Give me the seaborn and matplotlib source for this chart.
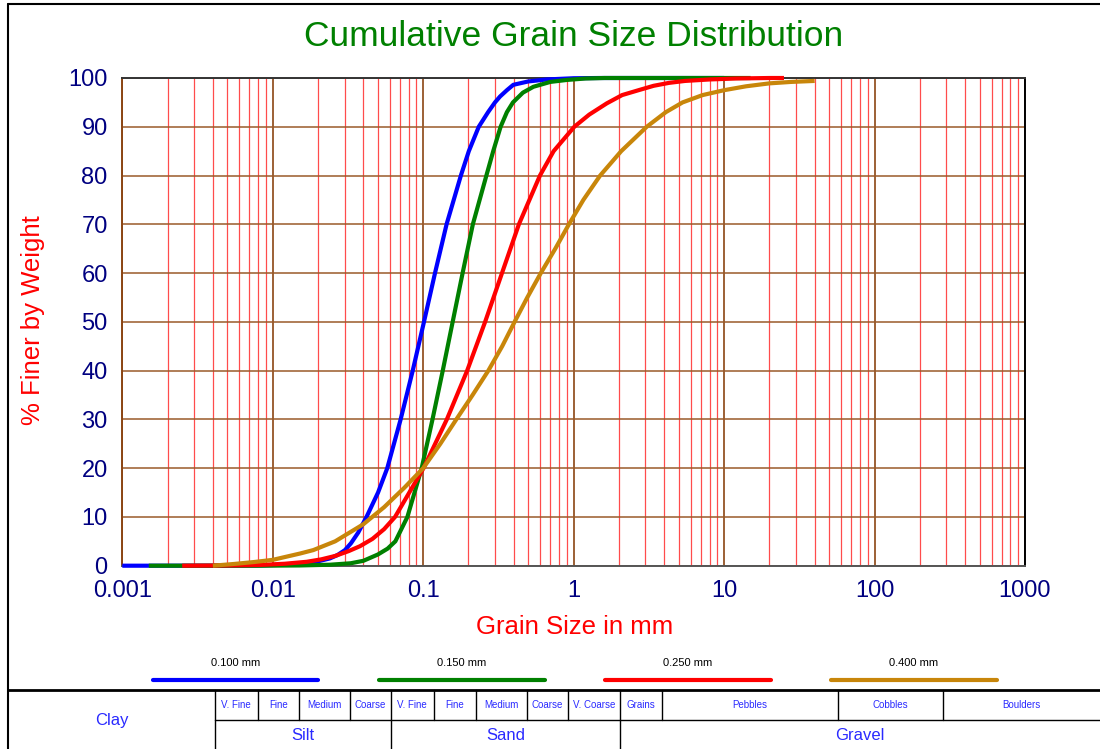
import numpy as np
import pandas as pd
import matplotlib
matplotlib.use("Agg")
import matplotlib.pyplot as plt
import seaborn as sns
from matplotlib.lines import Line2D
from matplotlib.ticker import FixedLocator, FixedFormatter, MultipleLocator, NullFormatter, LogLocator

# ---------------- data ----------------
series_names = ["0.100 mm", "0.150 mm", "0.250 mm", "0.400 mm"]
series_colors = ["#0000ff", "#008000", "#ff0000", "#c8860a"]

blue_d = [0.001, 0.004, 0.008, 0.012, 0.0169, 0.02, 0.024, 0.027, 0.0302, 0.0331, 0.037, 0.042,
          0.0501, 0.0577, 0.0708, 0.0852, 0.1012, 0.1198, 0.143, 0.178, 0.201, 0.234, 0.27,
          0.30, 0.324, 0.36, 0.397, 0.5, 0.662, 1.0, 1.5, 10.0]
blue_p = [0, 0, 0.05, 0.2, 0.5, 0.9, 1.5, 2.2, 3.2, 4.6, 6.8, 10,
          15, 20, 30, 40, 50, 60, 70, 80, 85, 90, 93,
          95, 96.2, 97.5, 98.6, 99.3, 99.7, 99.95, 100, 100]

green_d = [0.0015, 0.008, 0.015, 0.024, 0.033, 0.04, 0.05, 0.058, 0.0653, 0.0785, 0.0977,
           0.1153, 0.1349, 0.157, 0.1828, 0.2138, 0.263, 0.292, 0.327, 0.36, 0.395, 0.46,
           0.54, 0.7, 0.9, 1.2, 1.6, 15.0]
green_p = [0, 0, 0.05, 0.2, 0.5, 1.0, 2.3, 3.5, 5, 10, 20,
           30, 40, 50, 60, 70, 80, 85, 90, 93, 95, 97,
           98.2, 99.2, 99.6, 99.9, 100, 100]

red_d = [0.0025, 0.005, 0.0082, 0.012, 0.0168, 0.021, 0.026, 0.032, 0.038, 0.046, 0.055, 0.065,
         0.1005, 0.1436, 0.196, 0.258, 0.334, 0.4325, 0.597, 0.736, 1.01, 1.27, 1.66, 2.1, 2.7,
         3.4, 4.3, 5.5, 8.0, 12.0, 20.0, 25.0]
red_p = [0, 0.05, 0.15, 0.4, 0.8, 1.3, 2, 3, 4, 5.5, 7.5, 10,
         20, 30, 40, 50, 60, 70, 80, 85, 90, 92.5, 94.8, 96.5, 97.5,
         98.4, 99, 99.4, 99.7, 99.9, 100, 100]

gold_d = [0.004, 0.0055, 0.0075, 0.01, 0.0152, 0.0186, 0.026, 0.04, 0.055, 0.075, 0.1, 0.13,
          0.166, 0.213, 0.271, 0.335, 0.405, 0.492, 0.605, 0.755, 0.93, 1.16, 1.5, 2.07, 3.06,
          4.1, 5.3, 7.2, 10.0, 14.0, 20.0, 28.0, 40.0]
gold_p = [0, 0.35, 0.75, 1.2, 2.5, 3.2, 5, 8.5, 12, 16, 20, 25,
          30, 35, 40, 45, 50, 55, 60, 65, 70, 75, 80, 85, 90,
          93, 95, 96.5, 97.5, 98.3, 98.9, 99.2, 99.4]

x_ticks = [0.001, 0.01, 0.1, 1, 10, 100, 1000]
x_tick_labels = ["0.001", "0.01", "0.1", "1", "10", "100", "1000"]
y_ticks = [0, 10, 20, 30, 40, 50, 60, 70, 80, 90, 100]
y_tick_labels = [str(v) for v in y_ticks]

title_text = "Cumulative Grain Size Distribution"
x_label_text = "Grain Size in mm"
y_label_text = "% Finer by Weight"

row1_labels = ["V. Fine", "Fine", "Medium", "Coarse", "V. Fine", "Fine", "Medium", "Coarse",
               "V. Coarse", "Grains", "Pebbles", "Cobbles", "Boulders"]
row2_labels = ["Silt", "Sand", "Gravel"]
clay_label = "Clay"

# ---------------- layout (pixels of a 1100x749 canvas) ----------------
W_PX, H_PX = 1100, 749
def fx(px):
    return px / W_PX
def fy(py):
    return 1 - py / H_PX

row1_edges = [215, 257.5, 299, 350, 391, 433.5, 475.5, 527, 568, 620, 661.5, 838, 943, 1100]
row2_edges = [215, 391, 620, 1100]
legend_spans = [(153, 318), (379, 545), (605, 771), (831, 997)]

sns.set_style("white")
plt.rcParams["font.family"] = ["Liberation Sans", "DejaVu Sans"]

fig = plt.figure(figsize=(11, 7.49), dpi=100)
ax = fig.add_axes([fx(122.3), fy(565.7), fx(1025) - fx(122.3), fy(78) - fy(565.7)])
ax.set_xscale("log")

frames = []
for name, d, p in zip(series_names, [blue_d, green_d, red_d, gold_d], [blue_p, green_p, red_p, gold_p]):
    frames.append(pd.DataFrame({"size": d, "pct": p, "series": name}))
df = pd.concat(frames, ignore_index=True)

sns.lineplot(data=df, x="size", y="pct", hue="series", hue_order=series_names,
             palette=series_colors, estimator=None, legend=False, ax=ax,
             lw=3, clip_on=False, zorder=5, solid_joinstyle="round", solid_capstyle="butt")

ax.set_xlim(0.001, 1000)
ax.set_ylim(0, 100)
ax.set_xlabel("")
ax.set_ylabel("")

ax.xaxis.set_major_locator(FixedLocator(x_ticks))
ax.xaxis.set_major_formatter(FixedFormatter(x_tick_labels))
ax.xaxis.set_minor_locator(LogLocator(base=10, subs=np.arange(2, 10)))
ax.xaxis.set_minor_formatter(NullFormatter())
ax.yaxis.set_major_locator(FixedLocator(y_ticks))
ax.yaxis.set_major_formatter(FixedFormatter(y_tick_labels))
ax.yaxis.set_minor_locator(MultipleLocator(5))

brown = "#8b4513"
ax.grid(which="minor", axis="x", color="#ff0000", lw=0.9, alpha=0.7, zorder=1)
ax.grid(which="major", axis="x", color=brown, lw=1.2, zorder=2)
ax.grid(which="major", axis="y", color="#9a5a2a", lw=1.1, zorder=2)
ax.set_axisbelow(True)

ax.tick_params(axis="both", which="major", direction="out", length=5.5, width=1.2,
               color=brown, labelcolor="#000080", labelsize=17, pad=5)
ax.tick_params(axis="x", which="minor", length=0)
ax.tick_params(axis="y", which="minor", direction="out", length=3, width=1, color="#ff0000")

for side, col in [("left", brown), ("bottom", "#555555"), ("top", "#333333"), ("right", "#000000")]:
    ax.spines[side].set_visible(True)
    ax.spines[side].set_color(col)
    ax.spines[side].set_linewidth(1.4)

# titles
fig.text(fx(574), fy(36), title_text, color="#008000", fontsize=25.5, ha="center", va="center")
fig.text(fx(574.5), fy(627), x_label_text, color="#ff0000", fontsize=18.5, ha="center", va="center")
fig.text(fx(33), fy(320), y_label_text, color="#ff0000", fontsize=18.5, ha="center", va="center",
         rotation=90)

# legend
for name, col, (x0, x1) in zip(series_names, series_colors, legend_spans):
    fig.add_artist(Line2D([fx(x0), fx(x1)], [fy(680), fy(680)], transform=fig.transFigure,
                          color=col, lw=3))
    fig.text(fx((x0 + x1) / 2), fy(663), name, fontsize=8, ha="center", va="center", color="black")

# outer frame and classification table
def hline(y, x0, x1, lw=1.0):
    fig.add_artist(Line2D([fx(x0), fx(x1)], [fy(y), fy(y)], transform=fig.transFigure,
                          color="black", lw=lw))
def vline(x, y0, y1, lw=1.0):
    fig.add_artist(Line2D([fx(x), fx(x)], [fy(y0), fy(y1)], transform=fig.transFigure,
                          color="black", lw=lw))

hline(4, 8, 1100, lw=1.5)
vline(8, 4, 749, lw=1.5)
hline(690, 8, 1100, lw=2.0)
hline(720, 215, 1100, lw=1.0)
for x in row1_edges[:-1]:
    vline(x, 690, 720, lw=1.0)
for x in row2_edges[:-1]:
    vline(x, 720, 749, lw=1.0)

tcol = "#2a2aff"
for i, lab in enumerate(row1_labels):
    xc = (row1_edges[i] + row1_edges[i + 1]) / 2
    fig.text(fx(xc), fy(705), lab, fontsize=7, ha="center", va="center", color=tcol)
for i, lab in enumerate(row2_labels):
    xc = (row2_edges[i] + row2_edges[i + 1]) / 2
    fig.text(fx(xc), fy(736), lab, fontsize=12, ha="center", va="center", color=tcol)
fig.text(fx(111.5), fy(720), clay_label, fontsize=12, ha="center", va="center", color=tcol)

fig.savefig("out.png", dpi=100)
